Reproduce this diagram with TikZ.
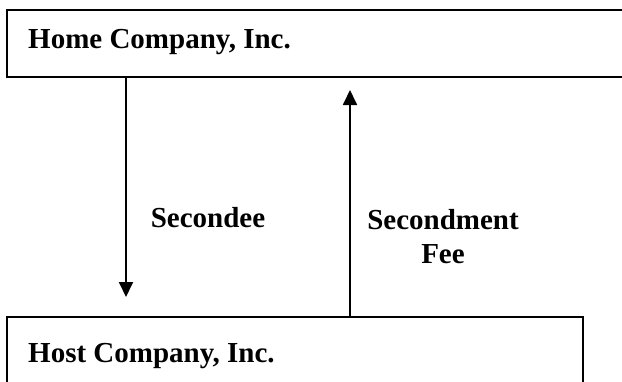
\documentclass[tikz,border=0pt]{standalone}
\usepackage{fontspec}
\setmainfont{Liberation Serif}
\usetikzlibrary{arrows.meta}
\tikzset{
  firmbox/.style={draw, line width=1.8pt, rectangle, inner sep=0pt, anchor=north west},
  firmname/.style={font=\bfseries\fontsize{29}{34}\selectfont, anchor=base west, inner sep=0pt},
  flowlabel/.style={font=\bfseries\fontsize{29}{34}\selectfont, align=center, inner sep=0pt},
  flow/.style={line width=1.8pt, -{Triangle[width=14pt,length=15pt]}}
}
\begin{document}
\begin{tikzpicture}[x=1pt,y=-1pt]
  \useasboundingbox (0,0) rectangle (622,381);
  \clip (0,0) rectangle (622,381);
  % the two companies
  \node[firmbox, minimum width=630pt, minimum height=67pt] (home) at (6,9) {};
  \node[firmbox, minimum width=576pt, minimum height=90pt] (host) at (6,316) {};
  \node[firmname] (homename) at (28,48) {Home Company, Inc.};
  \node[firmname] (hostname) at (28,362) {Host Company, Inc.};
  % secondee travels down, fee travels up
  \coordinate (downtip) at (126,297);
  \coordinate (uptip) at (350,90);
  \draw[flow] (home.south -| downtip) -- (downtip);
  \draw[flow] (host.north -| uptip) -- (uptip);
  \node[flowlabel, anchor=base] (secondee) at (208,227) {Secondee};
  \node[flowlabel] (fee) at (443,237) {Secondment\\Fee};
\end{tikzpicture}
\end{document}
